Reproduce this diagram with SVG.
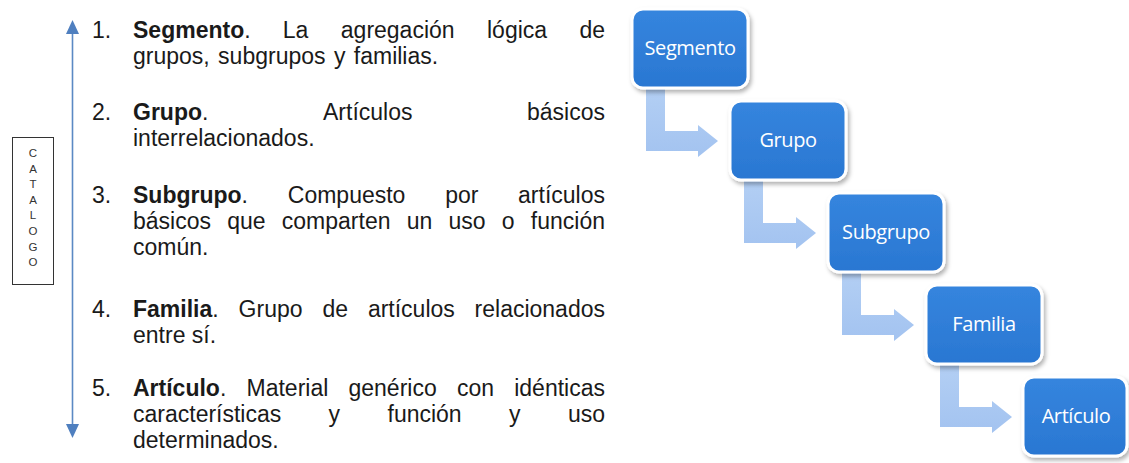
<svg xmlns="http://www.w3.org/2000/svg" width="1129" height="463" viewBox="0 0 1129 463">
<defs>
<style>
.t{font-family:"Liberation Sans",Arial,sans-serif;font-size:23px;fill:#1a1a1a}
.b{font-weight:bold}
.cat{font-family:"Liberation Sans",Arial,sans-serif;font-size:11.5px;fill:#333;text-anchor:middle}
.box{fill:url(#bg);stroke:#ffffff;stroke-width:3;filter:url(#sh)}
.lbl{font-family:"Open Sans","DejaVu Sans",sans-serif;font-size:20px;fill:#ffffff;text-anchor:middle;letter-spacing:-0.4px}
.con{fill:url(#cg)}
</style>
<linearGradient id="bg" x1="0" y1="0" x2="0" y2="1">
<stop offset="0" stop-color="#3585de"/>
<stop offset="1" stop-color="#2a77d2"/>
</linearGradient>
<linearGradient id="cg" x1="0" y1="0" x2="0" y2="1">
<stop offset="0" stop-color="#b3cff4"/>
<stop offset="1" stop-color="#a3c3f0"/>
</linearGradient>
<filter id="sh" x="-10%" y="-10%" width="125%" height="130%">
<feDropShadow dx="2" dy="3" stdDeviation="2" flood-color="#000" flood-opacity="0.3"/>
</filter>
</defs>
<rect width="1129" height="463" fill="#ffffff"/>

<g id="side-arrow">
<line x1="72.5" y1="32" x2="72.5" y2="426" stroke="#5b89c4" stroke-width="1.6"/>
<polygon points="72.5,20 66,34 79,34" fill="#4f7fbf"/>
<polygon points="72.5,438 66,424 79,424" fill="#4f7fbf"/>
</g>

<g id="catalogo">
<rect x="12.5" y="137.5" width="41" height="147" fill="none" stroke="#333" stroke-width="1"/>
<text class="cat" x="33" y="157">C</text>
<text class="cat" x="33" y="172.6">A</text>
<text class="cat" x="33" y="188.2">T</text>
<text class="cat" x="33" y="203.8">A</text>
<text class="cat" x="33" y="219.4">L</text>
<text class="cat" x="33" y="235">O</text>
<text class="cat" x="33" y="250.6">G</text>
<text class="cat" x="33" y="266.2">O</text>
</g>

<g id="list">
<text class="t" x="92" y="38">1.</text>
<text class="t" x="133" y="38"><tspan class="b">Segmento</tspan>.</text>
<text class="t" x="282.8" y="38">La</text>
<text class="t" x="340.8" y="38">agregación</text>
<text class="t" x="487" y="38">lógica</text>
<text class="t" x="605" y="38" text-anchor="end">de</text>
<text class="t" x="133" y="64" word-spacing="2">grupos, subgrupos y familias.</text>

<text class="t" x="92" y="120">2.</text>
<text class="t" x="133" y="120"><tspan class="b">Grupo</tspan>.</text>
<text class="t" x="323" y="120">Artículos</text>
<text class="t" x="605" y="120" text-anchor="end">básicos</text>
<text class="t" x="133" y="146">interrelacionados.</text>

<text class="t" x="92" y="203">3.</text>
<text class="t" x="133" y="203"><tspan class="b">Subgrupo</tspan>.</text>
<text class="t" x="287.8" y="203">Compuesto</text>
<text class="t" x="445.2" y="203">por</text>
<text class="t" x="605" y="203" text-anchor="end">artículos</text>
<text class="t" x="133" y="229">básicos</text>
<text class="t" x="227.2" y="229">que</text>
<text class="t" x="281.8" y="229">comparten</text>
<text class="t" x="406.7" y="229">un</text>
<text class="t" x="448.5" y="229">uso</text>
<text class="t" x="501.8" y="229">o</text>
<text class="t" x="605" y="229" text-anchor="end">función</text>
<text class="t" x="133" y="255">común.</text>

<text class="t" x="92" y="317">4.</text>
<text class="t" x="133" y="317"><tspan class="b">Familia</tspan>.</text>
<text class="t" x="238.6" y="317">Grupo</text>
<text class="t" x="322.4" y="317">de</text>
<text class="t" x="367.9" y="317">artículos</text>
<text class="t" x="605" y="317" text-anchor="end">relacionados</text>
<text class="t" x="133" y="343">entre sí.</text>

<text class="t" x="92" y="396">5.</text>
<text class="t" x="133" y="396"><tspan class="b">Artículo</tspan>.</text>
<text class="t" x="246.5" y="396">Material</text>
<text class="t" x="348.5" y="396">genérico</text>
<text class="t" x="456.9" y="396">con</text>
<text class="t" x="605" y="396" text-anchor="end">idénticas</text>
<text class="t" x="133" y="422">características</text>
<text class="t" x="328.6" y="422">y</text>
<text class="t" x="387.5" y="422">función</text>
<text class="t" x="509" y="422">y</text>
<text class="t" x="605" y="422" text-anchor="end">uso</text>
<text class="t" x="133" y="448">determinados.</text>
</g>

<g id="connectors">
<path class="con" d="M646,88 L665,88 L665,131 L698,131 L698,125 L718,141 L698,157 L698,151 L646,151 Z"/>
<path class="con" d="M744,180 L763,180 L763,223 L796,223 L796,217 L816,233 L796,249 L796,243 L744,243 Z"/>
<path class="con" d="M842,272 L861,272 L861,315 L894,315 L894,309 L914,325 L894,341 L894,335 L842,335 Z"/>
<path class="con" d="M940,364 L959,364 L959,407 L992,407 L992,401 L1012,417 L992,433 L992,427 L940,427 Z"/>
</g>

<g id="node-segmento">
<rect class="box" x="632" y="9" width="116" height="79" rx="11"/>
<text class="lbl" x="690" y="55">Segmento</text>
</g>
<g id="node-grupo">
<rect class="box" x="730" y="101" width="116" height="79" rx="11"/>
<text class="lbl" x="788" y="147">Grupo</text>
</g>
<g id="node-subgrupo">
<rect class="box" x="828" y="193" width="116" height="79" rx="11"/>
<text class="lbl" x="886" y="239">Subgrupo</text>
</g>
<g id="node-familia">
<rect class="box" x="926" y="285" width="116" height="79" rx="11"/>
<text class="lbl" x="984" y="331">Familia</text>
</g>
<g id="node-articulo">
<rect class="box" x="1023" y="377" width="104" height="79" rx="11"/>
<text class="lbl" x="1076" y="423">Artículo</text>
</g>
</svg>
